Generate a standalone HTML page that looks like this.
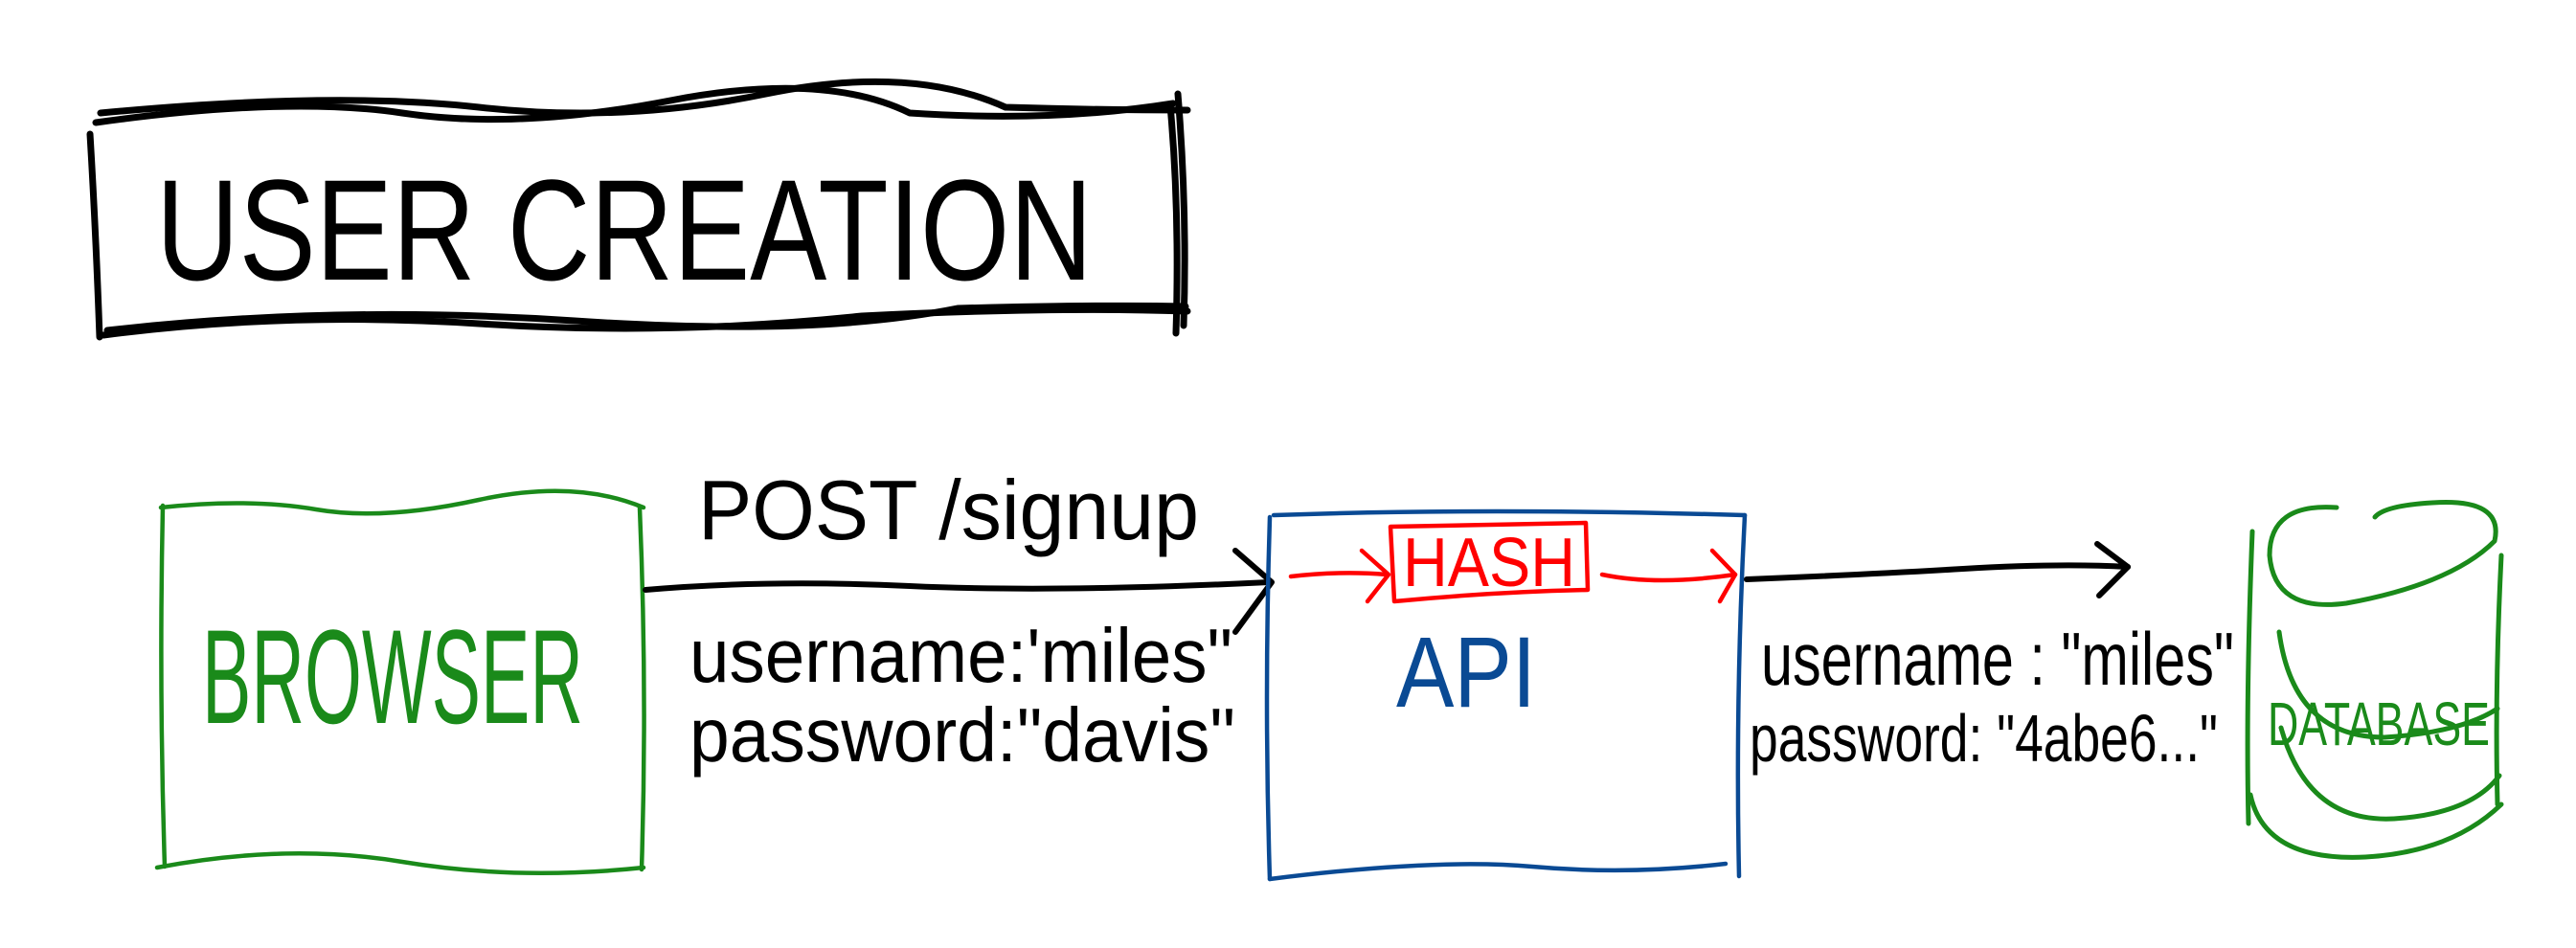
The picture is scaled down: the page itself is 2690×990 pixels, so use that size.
<!DOCTYPE html>
<html><head><meta charset="utf-8"><style>html,body{margin:0;padding:0;background:#fff}svg{display:block}</style></head>
<body>
<svg width="2690" height="990" viewBox="0 0 2690 990" xmlns="http://www.w3.org/2000/svg" font-family="Liberation Sans, sans-serif">
<g fill="none" stroke-linecap="round" stroke-linejoin="round">
<g stroke="#000" stroke-width="7">
<path d="M100 128 Q300 100 420 118 T700 105 T950 118 Q1100 128 1225 108"/>
<path d="M105 118 Q350 95 500 112 T800 98 T1050 112 Q1150 115 1240 115"/>
<path d="M108 350 Q300 325 500 338 T900 330 Q1100 320 1240 325"/>
<path d="M112 345 Q350 318 600 335 T1000 322 Q1150 318 1238 320"/>
<path d="M94 140 Q100 240 104 352"/>
<path d="M1222 110 Q1232 220 1228 348"/>
<path d="M1230 98 Q1240 220 1236 340"/>
</g>
<g stroke="#1a8a1a" stroke-width="4.5">
<path d="M168 530 Q260 520 330 532 T500 522 T672 530"/>
<path d="M170 528 Q166 720 172 905"/>
<path d="M164 906 Q300 880 420 900 T672 906"/>
<path d="M668 530 Q676 720 670 908"/>
</g>
<g stroke="#000" stroke-width="6">
<path d="M674 616 Q800 605 950 612 T1325 608"/>
<path d="M1290 575 L1328 608 L1290 660"/>
</g>
<g stroke="#0a4a94" stroke-width="4.5">
<path d="M1330 538 Q1550 530 1822 538"/>
<path d="M1326 540 Q1320 730 1326 918"/>
<path d="M1326 918 Q1500 896 1600 905 T1802 902"/>
<path d="M1822 538 Q1812 730 1816 915"/>
</g>
<g stroke="#f00" stroke-width="4.5">
<path d="M1452 550 L1656 546 L1658 616 Q1560 618 1456 628 Z"/>
<path d="M1348 602 Q1400 596 1448 600"/>
<path d="M1422 575 L1450 600 L1428 628"/>
<path d="M1673 600 Q1730 612 1812 600"/>
<path d="M1788 575 L1812 600 L1796 628"/>
</g>
<g stroke="#000" stroke-width="6">
<path d="M1824 605 Q1950 600 2050 594 T2222 592"/>
<path d="M2190 568 L2222 592 L2192 622"/>
</g>
<g stroke="#1a8a1a" stroke-width="5">
<path d="M2440 530 Q2370 525 2370 580 Q2375 640 2450 630 Q2560 610 2605 565 Q2615 520 2540 525 Q2490 528 2480 540"/>
<path d="M2352 555 Q2345 730 2348 860"/>
<path d="M2612 580 Q2605 720 2608 840"/>
<path d="M2380 660 Q2395 770 2490 770 Q2570 765 2608 740"/>
<path d="M2382 760 Q2410 860 2500 855 Q2580 850 2610 810"/>
<path d="M2350 830 Q2365 900 2470 895 Q2560 890 2612 840"/>
</g>
</g>
<g font-family="Liberation Sans, sans-serif" font-weight="normal">
<text x="163" y="292" font-size="150" fill="#000" textLength="978" lengthAdjust="spacingAndGlyphs">USER CREATION</text>
<text x="211" y="755" font-size="140" fill="#1a8a1a" textLength="398" lengthAdjust="spacingAndGlyphs">BROWSER</text>
<text x="729" y="563" font-size="88" fill="#000" textLength="523" lengthAdjust="spacingAndGlyphs">POST /signup</text>
<text x="720" y="712" font-size="80" fill="#000" textLength="567" lengthAdjust="spacingAndGlyphs">username:'miles"</text>
<text x="720" y="795" font-size="80" fill="#000" textLength="570" lengthAdjust="spacingAndGlyphs">password:"davis"</text>
<text x="1458" y="738" font-size="105" fill="#0a4a94" textLength="146" lengthAdjust="spacingAndGlyphs">API</text>
<text x="1465" y="612" font-size="72" fill="#f00" textLength="180" lengthAdjust="spacingAndGlyphs">HASH</text>
<text x="1839" y="715" font-size="78" fill="#000" textLength="494" lengthAdjust="spacingAndGlyphs">username : "miles"</text>
<text x="1827" y="795" font-size="70" fill="#000" textLength="489" lengthAdjust="spacingAndGlyphs">password: "4abe6..."</text>
<text x="2368" y="778" font-size="64" fill="#1a8a1a" textLength="232" lengthAdjust="spacingAndGlyphs">DATABASE</text>
</g>
</svg>
</body></html>
